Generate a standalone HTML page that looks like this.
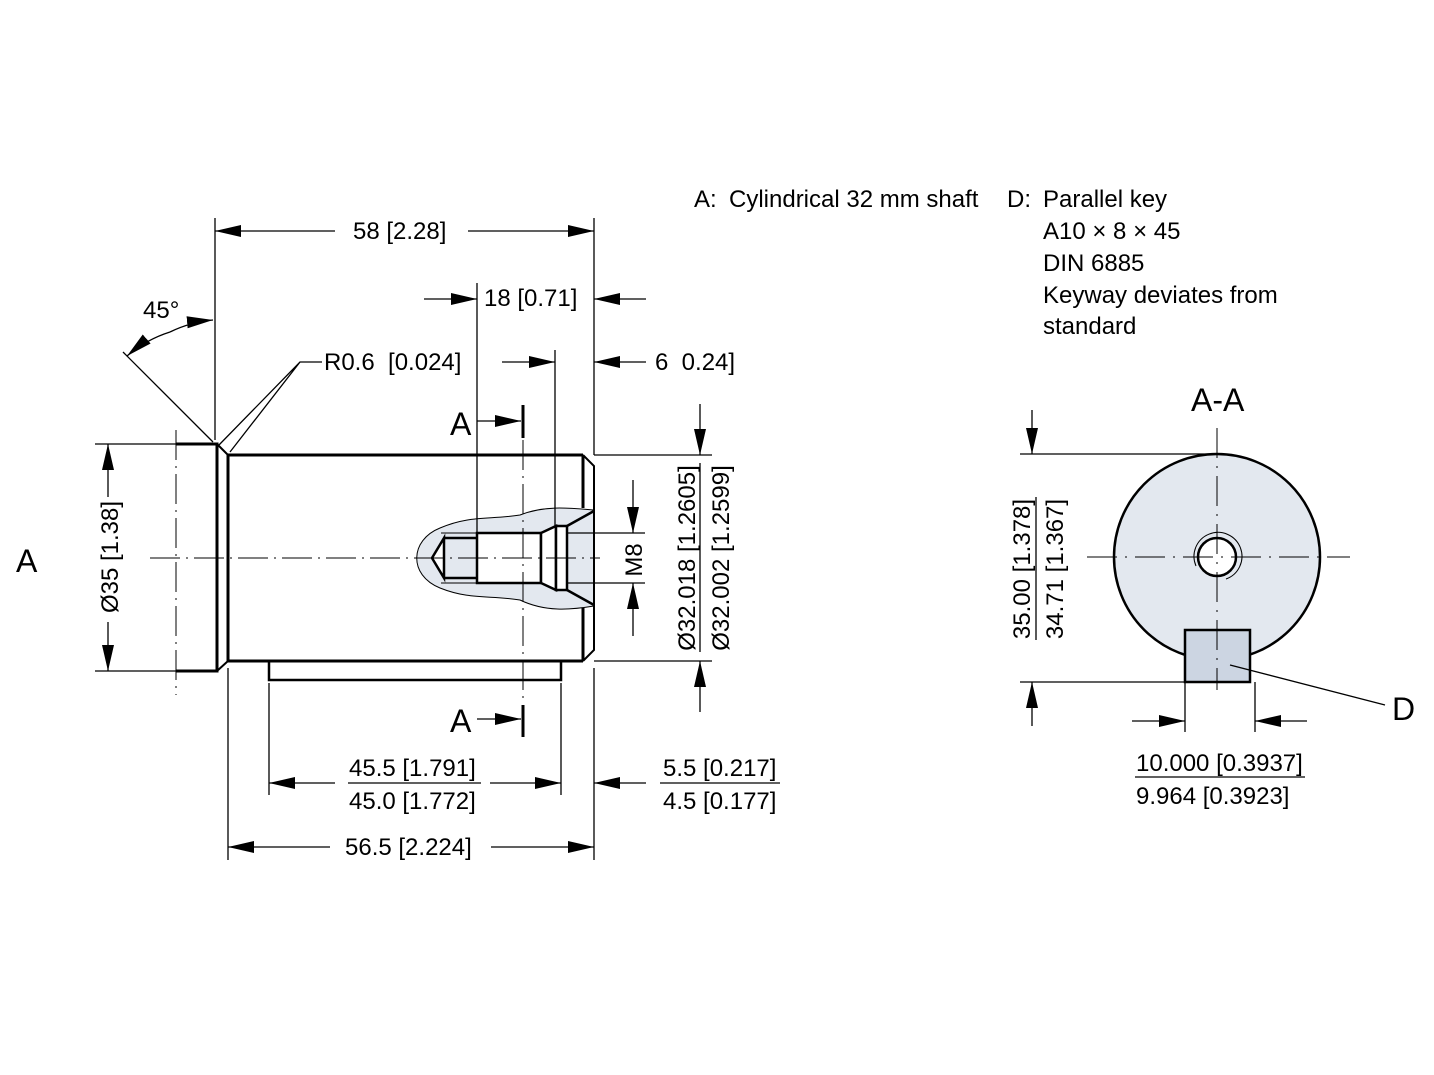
<!DOCTYPE html>
<html><head><meta charset="utf-8"><style>
html,body{margin:0;padding:0;background:#fff}
svg{display:block}
text{font-family:"Liberation Sans",sans-serif;fill:#000;white-space:pre}
</style></head><body>
<svg width="1434" height="1075" viewBox="0 0 1434 1075" xmlns="http://www.w3.org/2000/svg">
<defs>
<marker id="a" markerUnits="userSpaceOnUse" markerWidth="28" markerHeight="16" refX="26" refY="8" orient="auto"><path d="M0,2 L26,8 L0,14 Z" fill="#000"/></marker>
</defs>
<g stroke="#000" fill="none" stroke-width="1.3">
<path d="M594,510 C570,508 545,505 520,515 C490,520 470,515 440,528 C410,540 408,575 440,588 C470,600 490,595 520,600 C545,612 570,610 594,606 Z" fill="#e3e8ef" stroke="#000" stroke-width="1"/>
<path d="M176,444 H217 V671 H176" stroke-width="3"/>
<path d="M217,444 L228,455 M217,671 L228,661" stroke-width="2"/>
<path d="M228,455 H583 M228,661 H583 M228,455 V661" stroke-width="3"/>
<path d="M583,455 V508 M583,608 V661" stroke-width="3"/>
<path d="M583,455 L594,466 V650 L583,661" stroke-width="2"/>
<rect x="269" y="661" width="292" height="19" stroke-width="2.5"/>
<path d="M444,538 L432,558 L444,578 Z M444,538 H477 M444,578 H477 M444,538 V578" stroke-width="2.5" fill="#fff"/>
<rect x="477" y="533" width="64" height="50" fill="#fff" stroke-width="2.5"/>
<path d="M541,533 L556,526 V590 L541,583 Z" fill="#fff" stroke-width="2.5"/>
<rect x="556" y="526" width="11" height="64" fill="#fff" stroke-width="2.5"/>
<path d="M567,526 L594,511 M567,590 L594,605" stroke-width="2.5"/>
<path d="M441,533 H477 M441,583 H477" stroke-width="1"/>
<path d="M150,558 H600" stroke-width="1" stroke-dasharray="30,6,2,6"/>
<path d="M176,430 V695" stroke-width="1" stroke-dasharray="30,6,2,6"/>
<path d="M523,440 V700" stroke-width="1" stroke-dasharray="30,6,2,6"/>
<path d="M215,218 V440 M594,218 V455 M477,283 V583 M555,350 V526"/>
<path d="M95,444 H176 M95,671 H176"/>
<path d="M594,455 H712 M594,661 H712"/>
<path d="M567,533 H645 M567,583 H645"/>
<path d="M269,683 V795 M561,683 V795 M228,668 V860 M594,668 V860"/>
<path d="M335,231 H215" marker-end="url(#a)"/>
<path d="M468,231 H594" marker-end="url(#a)"/>
<path d="M424,299 H477" marker-end="url(#a)"/>
<path d="M646,299 H594" marker-end="url(#a)"/>
<path d="M502,362 H555" marker-end="url(#a)"/>
<path d="M646,362 H594" marker-end="url(#a)"/>
<path d="M322,362 H300 L218,446 M300,362 L230,452"/>
<path d="M123,352 L213,442"/>
<path d="M170,332 A122,122 0 0 1 213,320" marker-end="url(#a)"/>
<path d="M170,332 A122,122 0 0 0 127,356" marker-end="url(#a)"/>
<path d="M108,497 V444" marker-end="url(#a)"/>
<path d="M108,622 V671" marker-end="url(#a)"/>
<path d="M700,404 V455" marker-end="url(#a)"/>
<path d="M700,712 V661" marker-end="url(#a)"/>
<path d="M700,463 V652"/>
<path d="M633,480 V533" marker-end="url(#a)"/>
<path d="M633,636 V583" marker-end="url(#a)"/>
<path d="M477,421 H521" marker-end="url(#a)"/>
<path d="M523,405 V438" stroke-width="3"/>
<path d="M477,719 H521" marker-end="url(#a)"/>
<path d="M523,705 V737" stroke-width="3"/>
<path d="M335,783 H269" marker-end="url(#a)"/>
<path d="M490,783 H561" marker-end="url(#a)"/>
<path d="M646,783 H594" marker-end="url(#a)"/>
<path d="M348,783 H481 M660,783 H780"/>
<path d="M330,847 H228" marker-end="url(#a)"/>
<path d="M491,847 H594" marker-end="url(#a)"/>
<circle cx="1217" cy="557" r="103" fill="#e3e8ef" stroke-width="2.5"/>
<rect x="1185" y="630" width="65" height="52" fill="#ccd5e2" stroke-width="2.5"/>
<circle cx="1217" cy="557" r="19" fill="#fff" stroke-width="2.5"/>
<path d="M1196,566 A24,24 0 1 1 1226,579" stroke-width="1"/>
<path d="M1217,428 V690" stroke-width="1" stroke-dasharray="30,8,2,8"/>
<path d="M1087,557 H1350" stroke-width="1" stroke-dasharray="30,8,2,8"/>
<path d="M1020,454 H1217 M1020,682 H1185"/>
<path d="M1032,410 V454" marker-end="url(#a)"/>
<path d="M1032,726 V682" marker-end="url(#a)"/>
<path d="M1036,497 V640"/>
<path d="M1185,682 V732 M1255,682 V732"/>
<path d="M1132,721 H1185" marker-end="url(#a)"/>
<path d="M1307,721 H1255" marker-end="url(#a)"/>
<path d="M1135,777 H1305"/>
<path d="M1230,665 L1385,705"/>
</g>
<g font-size="24">
<text x="353" y="239">58 [2.28]</text>
<text x="484" y="306">18 [0.71]</text>
<text x="324" y="370">R0.6  [0.024]</text>
<text x="655" y="370">6  0.24]</text>
<text x="143" y="318">45°</text>
<text x="349" y="776">45.5 [1.791]</text>
<text x="349" y="809">45.0 [1.772]</text>
<text x="663" y="776">5.5 [0.217]</text>
<text x="663" y="809">4.5 [0.177]</text>
<text x="345" y="855">56.5 [2.224]</text>
<text transform="translate(118,557) rotate(-90)" text-anchor="middle">Ø35 [1.38]</text>
<text transform="translate(695,558) rotate(-90)" text-anchor="middle">Ø32.018 [1.2605]</text>
<text transform="translate(729,558) rotate(-90)" text-anchor="middle">Ø32.002 [1.2599]</text>
<text transform="translate(642,560) rotate(-90)" text-anchor="middle">M8</text>
<text transform="translate(1030,569) rotate(-90)" text-anchor="middle">35.00 [1.378]</text>
<text transform="translate(1063,569) rotate(-90)" text-anchor="middle">34.71 [1.367]</text>
<text x="1136" y="771">10.000 [0.3937]</text>
<text x="1136" y="804">9.964 [0.3923]</text>
<text x="694" y="207">A:</text>
<text x="729" y="207">Cylindrical 32 mm shaft</text>
<text x="1007" y="207">D:</text>
<text x="1043" y="207">Parallel key</text>
<text x="1043" y="239">A10 × 8 × 45</text>
<text x="1043" y="271">DIN 6885</text>
<text x="1043" y="303">Keyway deviates from</text>
<text x="1043" y="334">standard</text>
</g>
<g font-size="32">
<text x="16" y="572">A</text>
<text x="450" y="435">A</text>
<text x="450" y="732">A</text>
<text x="1191" y="411">A-A</text>
<text x="1392" y="720">D</text>
</g>
</svg>
</body></html>
